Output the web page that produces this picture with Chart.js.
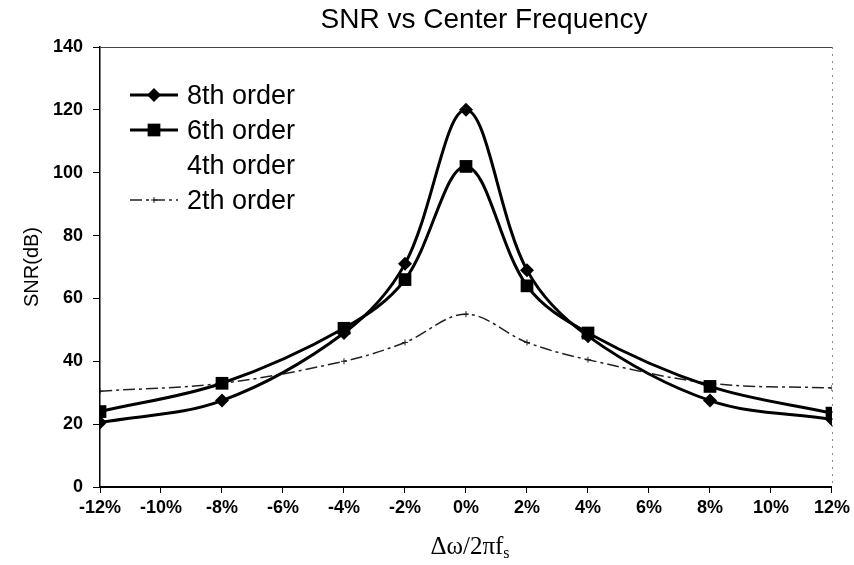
<!DOCTYPE html>
<html>
<head>
<meta charset="utf-8">
<script src="https://cdn.jsdelivr.net/npm/chart.js"></script>
<style>
  html, body { margin: 0; padding: 0; background: #fff; }
  #wrap { width: 854px; height: 565px; }
</style>
</head>
<body>
<div id="wrap"><canvas id="snr-chart" width="854" height="565"></canvas></div>
<script>
// values
const offsets = [-12, -8, -4, -2, 0, 2, 4, 8, 12];   // Δω/2πfs in %
const order8 = [20.5, 27.5, 49, 71, 120, 69, 48, 27.5, 21.5];
const order6 = [24, 33, 50.5, 66, 102, 64, 49, 32, 23.5];
const order4 = [];   // not visible in the picture
const order2 = [30.5, 33, 40, 46, 55, 46, 40.5, 33, 31.5];
const yTicks = { min: 0, max: 140, step: 20 };
const xTicks = { min: -12, max: 12, step: 2 };

const SANS = '"Liberation Sans", Arial, sans-serif';
const SERIF = '"Liberation Serif", "Times New Roman", serif';

function toPoints(values) {
    return values.map((v, i) => ({ x: offsets[i], y: v }));
}

// small marker helper used by the legend
function drawMarker(ctx, style, r, x, y, color) {
    ctx.save();
    ctx.fillStyle = color;
    ctx.strokeStyle = color;
    ctx.beginPath();
    if (style === 'rectRot') {
        ctx.moveTo(x, y - r); ctx.lineTo(x + r, y); ctx.lineTo(x, y + r); ctx.lineTo(x - r, y);
        ctx.closePath(); ctx.fill();
    } else if (style === 'rect') {
        const s = r * Math.SQRT1_2;
        ctx.rect(x - s, y - s, 2 * s, 2 * s); ctx.fill();
    } else if (style === 'cross' && r > 0) {
        ctx.lineWidth = 1;
        ctx.moveTo(x - r, y); ctx.lineTo(x + r, y);
        ctx.moveTo(x, y - r); ctx.lineTo(x, y + r);
        ctx.stroke();
    }
    ctx.restore();
}

const decorPlugin = {
    id: 'decor',
    beforeDatasetsDraw(chart) {
        const { ctx, chartArea: a } = chart;
        ctx.save();
        // top frame line
        ctx.strokeStyle = '#444';
        ctx.lineWidth = 1;
        ctx.beginPath();
        ctx.moveTo(a.left, a.top + 0.5);
        ctx.lineTo(a.right, a.top + 0.5);
        ctx.stroke();
        // dotted right frame
        ctx.strokeStyle = '#888';
        ctx.setLineDash([2, 5]);
        ctx.beginPath();
        ctx.moveTo(a.right + 0.5, a.top);
        ctx.lineTo(a.right + 0.5, a.bottom);
        ctx.stroke();
        ctx.restore();
    },
    afterDraw(chart) {
        const { ctx } = chart;
        ctx.save();
        ctx.fillStyle = '#000';
        // chart title
        ctx.font = '28px ' + SANS;
        ctx.textAlign = 'center';
        ctx.textBaseline = 'alphabetic';
        ctx.fillText('SNR vs Center Frequency', 484, 28);

        // x axis title with subscript s
        ctx.font = '25px ' + SERIF;
        const main = 'Δω/2πf';
        const mw = ctx.measureText(main).width;
        ctx.font = '16px ' + SERIF;
        const sw = ctx.measureText('s').width;
        const x0 = 470 - (mw + sw) / 2;
        ctx.textAlign = 'left';
        ctx.font = '25px ' + SERIF;
        ctx.fillText(main, x0, 554);
        ctx.font = '16px ' + SERIF;
        ctx.fillText('s', x0 + mw, 558);

        // legend inside the plot
        ctx.font = '27px ' + SANS;
        chart.data.datasets.forEach((ds, i) => {
            const y = 95 + i * 35;
            ctx.save();
            ctx.strokeStyle = ds.borderColor;
            ctx.lineWidth = ds.borderWidth;
            ctx.setLineDash(ds.borderDash || []);
            ctx.beginPath();
            ctx.moveTo(130, y);
            ctx.lineTo(178, y);
            ctx.stroke();
            ctx.restore();
            drawMarker(ctx, ds.pointStyle, ds.pointRadius, 154, y, ds.borderColor);
            ctx.fillStyle = '#000';
            ctx.fillText(ds.label, 187, y + 9);
        });
        ctx.restore();
    }
};

new Chart(document.getElementById('snr-chart').getContext('2d'), {
    type: 'line',
    data: {
        datasets: [
            {
                label: '8th order',
                data: toPoints(order8),
                borderColor: '#000', backgroundColor: '#000',
                borderWidth: 3, tension: 0.35,
                pointStyle: 'rectRot', pointRadius: 7, pointBorderWidth: 0
            },
            {
                label: '6th order',
                data: toPoints(order6),
                borderColor: '#000', backgroundColor: '#000',
                borderWidth: 3, tension: 0.35,
                pointStyle: 'rect', pointRadius: 9, pointBorderWidth: 0
            },
            {
                label: '4th order',
                data: toPoints(order4),
                borderColor: 'rgba(255,255,255,0)', backgroundColor: 'rgba(255,255,255,0)',
                borderWidth: 2, tension: 0.35,
                pointStyle: 'circle', pointRadius: 0
            },
            {
                label: '2th order',
                data: toPoints(order2),
                borderColor: '#222', backgroundColor: '#222',
                borderWidth: 1.5, borderDash: [12, 4, 3, 4], tension: 0.35,
                pointStyle: 'cross', pointRadius: 3, pointBorderWidth: 1
            }
        ]
    },
    options: {
        responsive: false,
        animation: false,
        layout: { padding: { left: 0, right: 21, top: 47, bottom: 0 } },
        plugins: {
            legend: { display: false },
            title: { display: false },
            tooltip: { enabled: false }
        },
        scales: {
            x: {
                type: 'linear',
                min: xTicks.min, max: xTicks.max,
                afterFit: s => { s.height = 78; },
                ticks: {
                    stepSize: xTicks.step,
                    callback: v => v + '%',
                    color: '#000',
                    font: { family: SANS, size: 18, weight: 'bold' },
                    padding: 4, maxRotation: 0, autoSkip: false
                },
                grid: { drawOnChartArea: false, drawTicks: true, tickLength: 6, color: '#000' },
                border: { color: '#000', width: 2 }
            },
            y: {
                min: yTicks.min, max: yTicks.max,
                afterFit: s => { s.width = 100; },
                ticks: {
                    stepSize: yTicks.step,
                    color: '#000',
                    font: { family: SANS, size: 18, weight: 'bold' },
                    padding: 10
                },
                grid: { drawOnChartArea: false, drawTicks: true, tickLength: 7, color: '#000' },
                border: { color: '#000', width: 1.5 },
                title: {
                    display: true, text: 'SNR(dB)', color: '#000',
                    font: { family: SANS, size: 20 },
                    padding: { top: 20, bottom: 0 }
                }
            }
        }
    },
    plugins: [decorPlugin]
});
</script>
</body>
</html>
